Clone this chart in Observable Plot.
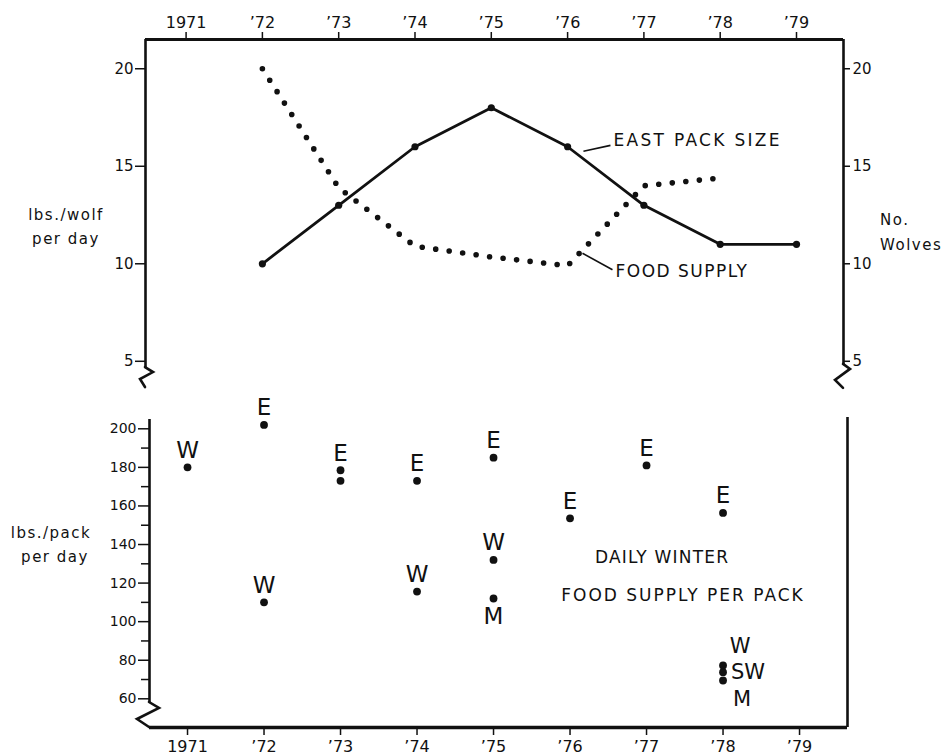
<!DOCTYPE html>
<html>
<head>
<meta charset="utf-8">
<script src="https://cdn.jsdelivr.net/npm/d3@7"></script>
<script src="https://cdn.jsdelivr.net/npm/@observablehq/plot@0.6"></script>
<style>
  html, body { margin: 0; padding: 0; background: #fff; }
  #wrap { position: relative; width: 947px; height: 756px; overflow: hidden;
          font-family: "DejaVu Sans", sans-serif; color: #111; background: #fff; }
  .panel { position: absolute; left: 0; }
  .lab { position: absolute; font-size: 15px; letter-spacing: 1.5px; white-space: nowrap; line-height: 1; }
  .c { transform: translate(-50%, -50%); }
  .l { transform: translate(0, -50%); }
</style>
</head>
<body>
<div id="wrap">
  <div id="topPanel" class="panel" style="top:0px"></div>
  <div id="bottomPanel" class="panel" style="top:395px"></div>
  <div class="lab c" style="left:66px; top:215px">lbs./wolf</div>
  <div class="lab c" style="left:66px; top:239px">per day</div>
  <div class="lab l" style="left:880px; top:220px">No.</div>
  <div class="lab l" style="left:880px; top:245px">Wolves</div>
  <div class="lab c" style="left:51px; top:533px">lbs./pack</div>
  <div class="lab c" style="left:55px; top:557px">per day</div>
</div>
<script>
// ---------------- data ----------------
const years = [1971, 1972, 1973, 1974, 1975, 1976, 1977, 1978, 1979];
const yearLabels = ["1971", "’72", "’73", "’74", "’75", "’76", "’77", "’78", "’79"];

// top panel
const topTicks = [5, 10, 15, 20];
const eastYears = [1972, 1973, 1974, 1975, 1976, 1977, 1978, 1979];
const eastPackSize = [10, 13, 16, 18, 16, 13, 11, 11];
const foodYears = [1972, 1973, 1974, 1975, 1976, 1977, 1978];
const foodSupply = [20, 13.9, 10.9, 10.35, 9.9, 14.0, 14.4];

// bottom panel
const bottomTicks = [60, 80, 100, 120, 140, 160, 180, 200];
const bottomMinorTicks = [70, 90, 110, 130, 150, 170, 190];
const packYears  = [1971, 1972, 1972, 1973, 1973, 1974, 1974, 1975, 1975, 1975, 1976, 1977, 1978, 1978, 1978, 1978];
const packValues = [180, 202, 110, 178.5, 173, 173, 115.6, 185, 132, 112, 153.6, 181, 156.4, 77.3, 73.8, 69.5];
const packLabels = ["W", "E", "W", "E", "", "E", "W", "E", "W", "M", "E", "E", "E", "W", "SW", "M"];

// ---------------- annotations / layout ----------------
const labelPlacement = ["above", "above", "above", "above", "none", "above", "above", "above", "above", "below",
                        "above", "above", "above", "aboveRight", "right", "belowRight"];
const placeStyle = {
  above: {dx: 0, dy: -17, textAnchor: "middle", fontSize: 23},
  below: {dx: 0, dy: 18, textAnchor: "middle", fontSize: 23},
  aboveRight: {dx: 17, dy: -19, textAnchor: "middle", fontSize: 21},
  right: {dx: 8, dy: 0, textAnchor: "start", fontSize: 21},
  belowRight: {dx: 19, dy: 19, textAnchor: "middle", fontSize: 21}
};
const topNotes = [
  {text: "EAST PACK SIZE", x: 1976.602, y: 16.3},
  {text: "FOOD SUPPLY", x: 1976.628, y: 9.58}
];
const topLeaders = [
  {x1: 1976.208, y1: 15.77, x2: 1976.562, y2: 16.07},
  {x1: 1976.195, y1: 10.54, x2: 1976.588, y2: 9.69}
];
const bottomNotes = [
  {text: "DAILY WINTER", x: 1977.203, y: 133.5},
  {text: "FOOD SUPPLY PER PACK", x: 1977.477, y: 113.3}
];
const noteSpacing = {"EAST PACK SIZE": "2.3px", "FOOD SUPPLY": "1.5px", "DAILY WINTER": "1.2px", "FOOD SUPPLY PER PACK": "2px"};

const W = 947;
const INK = "#111";
const FONT = '"DejaVu Sans", sans-serif';
const xTop = [1970.468, 1979.616];
const yTop = [3.246, 21.5];
const xBot = [1970.503, 1979.627];
const yBot = [45.12, 214.67];

// axis-break zigzag (shape in px, anchored at an axis position)
function breakMark(xv, yv, shape, sw) {
  return (index, scales) => {
    const x0 = scales.x(xv), y0 = scales.y(yv);
    return d3.create("svg:path")
      .attr("d", "M" + shape.map(([dx, dy]) => `${x0 + dx},${y0 + dy}`).join("L"))
      .attr("fill", "none").attr("stroke", INK).attr("stroke-width", sw)
      .attr("stroke-linejoin", "miter").attr("stroke-linecap", "round")
      .node();
  };
}
const fmtYear = (d) => yearLabels[years.indexOf(d)];
function spaceNotes(svg) {
  d3.select(svg).selectAll("text").each(function () {
    const s = noteSpacing[this.textContent];
    if (s) this.style.letterSpacing = s;
  });
}

// ---------------- top panel ----------------
const eastRows = eastYears.map((year, i) => ({year, value: eastPackSize[i]}));
const foodRows = foodYears.map((year, i) => ({year, value: foodSupply[i]}));

const topPlot = Plot.plot({
  width: W, height: 395,
  marginTop: 39, marginBottom: 0, marginLeft: 145, marginRight: 104,
  style: {fontFamily: FONT, color: INK, background: "transparent", overflow: "visible"},
  x: {domain: xTop},
  y: {domain: yTop},
  marks: [
    Plot.axisX({anchor: "top", ticks: years, tickFormat: fmtYear, tickSize: 8, tickPadding: 4,
                fontSize: 16, label: null, strokeWidth: 1.5}),
    Plot.axisY({anchor: "left", ticks: topTicks, tickSize: 10, tickPadding: 2, fontSize: 15,
                label: null, strokeWidth: 1.5}),
    Plot.axisY({anchor: "right", ticks: topTicks, tickSize: 6, tickPadding: 3, fontSize: 15,
                label: null, strokeWidth: 1.5}),
    Plot.ruleY([yTop[1]], {stroke: INK, strokeWidth: 3.2}),
    Plot.ruleX([xTop[0]], {y1: 4.68, y2: yTop[1], stroke: INK, strokeWidth: 2.6}),
    Plot.ruleX([xTop[1]], {y1: 4.84, y2: yTop[1], stroke: INK, strokeWidth: 2.6}),
    breakMark(xTop[0], 4.68, [[0, 0], [8, 5], [-5, 12], [0, 20]], 2.6),
    breakMark(xTop[1], 4.84, [[0, 0], [7, 5], [-8, 16], [0, 24]], 2.6),
    Plot.line(foodRows, {x: "year", y: "value", stroke: INK, strokeWidth: 5.6,
                         strokeDasharray: "0 13.6", strokeLinecap: "round"}),
    Plot.line(eastRows, {x: "year", y: "value", stroke: INK, strokeWidth: 2.8}),
    Plot.dot(eastRows, {x: "year", y: "value", r: 3.6, fill: INK}),
    Plot.link(topLeaders, {x1: "x1", y1: "y1", x2: "x2", y2: "y2", stroke: INK, strokeWidth: 1.6}),
    Plot.text(topNotes, {x: "x", y: "y", text: "text", textAnchor: "start", fontSize: 17, fill: INK})
  ]
});
spaceNotes(topPlot);
document.getElementById("topPanel").append(topPlot);

// ---------------- bottom panel ----------------
const packRows = packYears.map((year, i) => ({year, value: packValues[i], label: packLabels[i], place: labelPlacement[i]}));
const labelMarks = Object.entries(placeStyle).map(([key, s]) =>
  Plot.text(packRows.filter((r) => r.place === key), {
    x: "year", y: "value", text: "label", dx: s.dx, dy: s.dy, textAnchor: s.textAnchor,
    fontSize: s.fontSize, fill: INK
  })
);

const bottomPlot = Plot.plot({
  width: W, height: 361,
  marginTop: 5, marginBottom: 29, marginLeft: 149, marginRight: 100,
  style: {fontFamily: FONT, color: INK, background: "transparent", overflow: "visible"},
  x: {domain: xBot},
  y: {domain: yBot},
  marks: [
    Plot.axisX({anchor: "bottom", ticks: years, tickFormat: fmtYear, tickSize: 8, tickPadding: 5,
                fontSize: 16, label: null, strokeWidth: 1.5}),
    Plot.axisY({anchor: "left", ticks: bottomTicks, tickSize: 11, tickPadding: 2, fontSize: 14,
                label: null, strokeWidth: 1.5}),
    Plot.axisY({anchor: "left", ticks: bottomMinorTicks, tickSize: 8, tickFormat: () => "",
                label: null, strokeWidth: 1.5}),
    Plot.ruleY([yBot[0]], {stroke: INK, strokeWidth: 3.6}),
    Plot.ruleX([xBot[0]], {y1: 58.08, y2: 204.8, stroke: INK, strokeWidth: 2.6}),
    Plot.ruleX([xBot[1]], {y1: yBot[0], y2: 205.9, stroke: INK, strokeWidth: 2.6}),
    breakMark(xBot[0], 58.08, [[0, 0], [10, 6], [-12, 17], [0, 25]], 2.6),
    Plot.dot(packRows, {x: "year", y: "value", r: 3.9, fill: INK}),
    ...labelMarks,
    Plot.text(bottomNotes, {x: "x", y: "y", text: "text", fontSize: 17, fill: INK})
  ]
});
spaceNotes(bottomPlot);
document.getElementById("bottomPanel").append(bottomPlot);
</script>
</body>
</html>
